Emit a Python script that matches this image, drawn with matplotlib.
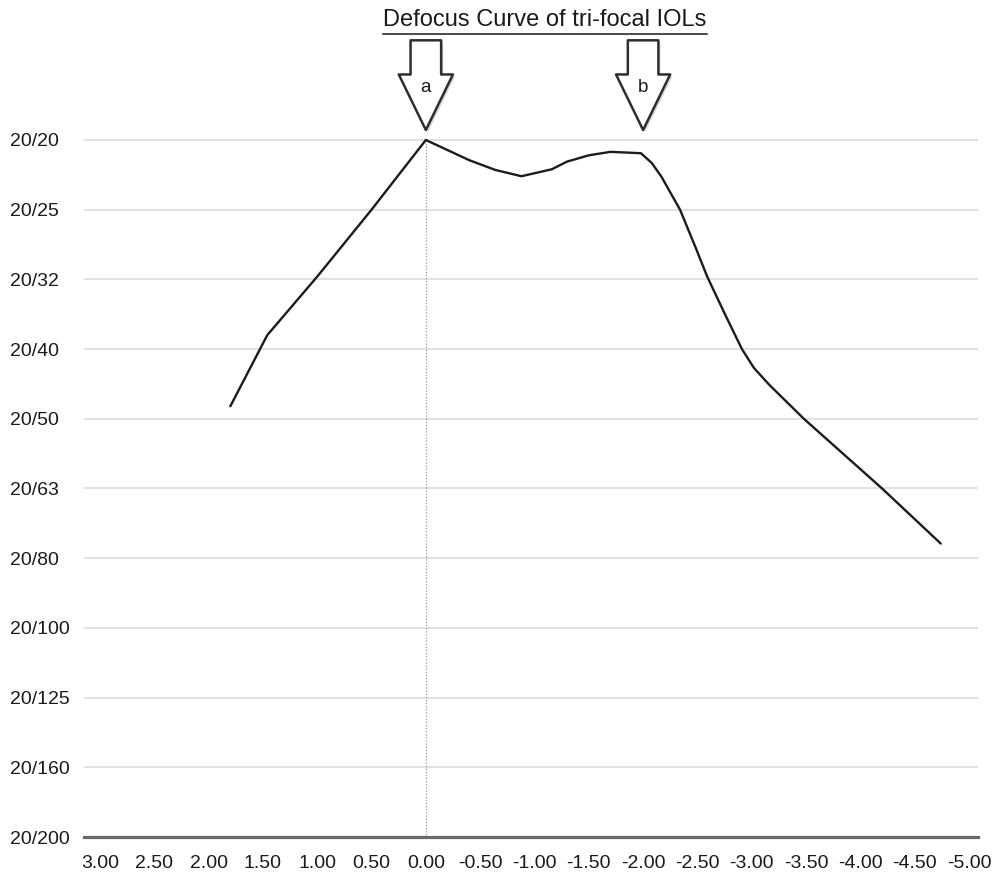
import matplotlib
matplotlib.use("Agg")
import matplotlib.pyplot as plt
import matplotlib.patheffects as pe
from matplotlib.lines import Line2D

plt.rcParams['font.family'] = ['Liberation Sans', 'DejaVu Sans']

# ---- data ----
title = "Defocus Curve of tri-focal IOLs"
defocus = [1.80, 1.46, 1.00, 0.50, 0.00, -0.40, -0.64, -0.88, -1.16, -1.30, -1.50,
           -1.70, -1.98, -2.08, -2.17, -2.34, -2.48, -2.59, -2.76, -2.91, -3.02,
           -3.16, -3.48, -4.20, -4.74]
logmar = [0.382, 0.280, 0.196, 0.100, 0.000, 0.029, 0.043, 0.052, 0.042, 0.031, 0.022,
          0.017, 0.019, 0.033, 0.053, 0.100, 0.153, 0.196, 0.252, 0.300, 0.327,
          0.351, 0.400, 0.500, 0.579]
x_ticks = [3.0, 2.5, 2.0, 1.5, 1.0, 0.5, 0.0, -0.5, -1.0, -1.5, -2.0, -2.5, -3.0,
           -3.5, -4.0, -4.5, -5.0]
y_ticks = [0.0, 0.1, 0.2, 0.3, 0.4, 0.5, 0.6, 0.7, 0.8, 0.9, 1.0]
y_labels = ["20/20", "20/25", "20/32", "20/40", "20/50", "20/63", "20/80",
            "20/100", "20/125", "20/160", "20/200"]
arrow_x = [0.0, -2.0]
arrow_labels = ["a", "b"]

W, H = 996, 876
fig = plt.figure(figsize=(W / 100, H / 100), dpi=100)
ax = fig.add_axes([84 / W, (H - 837) / H, (978 - 84) / W, (837 - 30) / H])

ax.set_xlim(3.147, -5.083)
ax.set_ylim(1.0, -0.1578)

# grid lines
for yv in y_ticks[:-1]:
    ax.axhline(yv, color='#dcdcdc', lw=1.2, zorder=1)

for s in ['top', 'right', 'left']:
    ax.spines[s].set_visible(False)
ax.spines['bottom'].set_color('#6a6a6a')
ax.spines['bottom'].set_linewidth(2.3)

# vertical dotted reference line at 0 D
ax.vlines(0.0, 0.0, 1.0, colors='#9a9a9a', linestyles=(0, (1, 1.5)), lw=0.9, zorder=2)

# curve
ax.plot(defocus, logmar, color='#1c1c1c', lw=1.7, zorder=4,
        solid_joinstyle='round', solid_capstyle='round')

# ticks
ax.set_xticks(x_ticks)
ax.set_xticklabels([f"{v:.2f}" for v in x_ticks])
ax.set_yticks(y_ticks)
ax.set_yticklabels(y_labels)
ax.tick_params(axis='x', length=0, pad=13, labelsize=14, colors='#1a1a1a')
ax.tick_params(axis='y', length=0, pad=53, labelsize=14, colors='#1a1a1a')
for lab in ax.get_yticklabels():
    lab.set_horizontalalignment('left')

# block arrows
for xv, lab in zip(arrow_x, arrow_labels):
    ax.annotate('', xy=(xv, -0.0143), xytext=(xv, -0.143),
                arrowprops=dict(arrowstyle='simple,head_length=4.0,head_width=3.9,tail_width=2.2',
                                mutation_scale=10, fc='white', ec='#2e2e2e', lw=1.8,
                                shrinkA=0, shrinkB=0,
                                path_effects=[pe.SimplePatchShadow(offset=(1.5, -1.5), alpha=0.25,
                                                                   shadow_rgbFace='#555555'),
                                              pe.Normal()]),
                annotation_clip=False, zorder=5)
    ax.text(xv, -0.0746, lab, ha='center', va='center', fontsize=13.5, color='#1a1a1a', zorder=6)

# title with underline
t = fig.text(545 / W, 1 - 20 / H, title, ha='center', va='center', fontsize=17, color='#1a1a1a')
fig.canvas.draw()
bb = t.get_window_extent()
uy = (H - 34) / H
fig.add_artist(Line2D([bb.x0 / W, bb.x1 / W], [uy, uy], transform=fig.transFigure,
                      color='#1a1a1a', lw=1.1))

fig.savefig("out.png", dpi=100)
